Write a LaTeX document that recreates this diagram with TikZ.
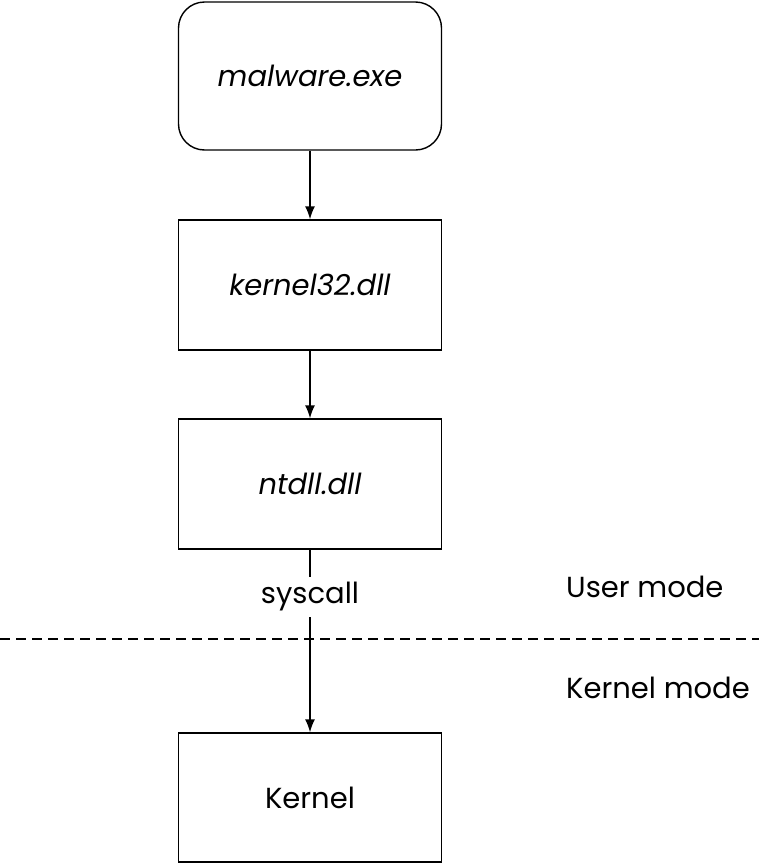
\documentclass[tikz,border=0pt]{standalone}
\usepackage{fontspec}
\setmainfont{Poppins}
\usetikzlibrary{arrows.meta}
\begin{document}
\begin{tikzpicture}[x=1pt,y=-1pt,
  box/.style={draw, line width=1.4pt, minimum width=263pt, inner sep=0pt, font=\fontsize{29}{32}\selectfont\itshape},
  plain/.style={font=\fontsize{29}{32}\selectfont},
  conn/.style={line width=1.4pt, -{Latex[length=13pt,width=10pt]}}]
\useasboundingbox (0,0) rectangle (759,865);
\node[box, rounded corners=26pt, minimum height=148pt] (mal) at (310,76) {malware.exe};
\node[box, minimum height=130pt] (k32) at (310,285) {kernel32.dll};
\node[box, minimum height=130pt] (nt) at (310,484) {ntdll.dll};
\node[box, minimum height=129pt, font=\fontsize{29}{32}\selectfont] (ker) at (310,797.5) {Kernel};
\node[plain, inner sep=0pt, minimum height=40pt] (sys) at (310,597) {syscall};
\node[plain, anchor=west, inner sep=0pt] (um) at (566,587) {User mode};
\node[plain, anchor=west, inner sep=0pt] (km) at (566,688) {Kernel mode};
\coordinate (dl) at (0,639);
\coordinate (dr) at (759,639);
\draw[line width=1.3pt, dash pattern=on 10pt off 6pt] (dl) -- (dr);
\draw[conn] (mal) -- (k32);
\draw[conn] (k32) -- (nt);
\draw[line width=1.4pt] (nt) -- (sys);
\draw[conn] (sys) -- (ker);
\end{tikzpicture}
\end{document}
